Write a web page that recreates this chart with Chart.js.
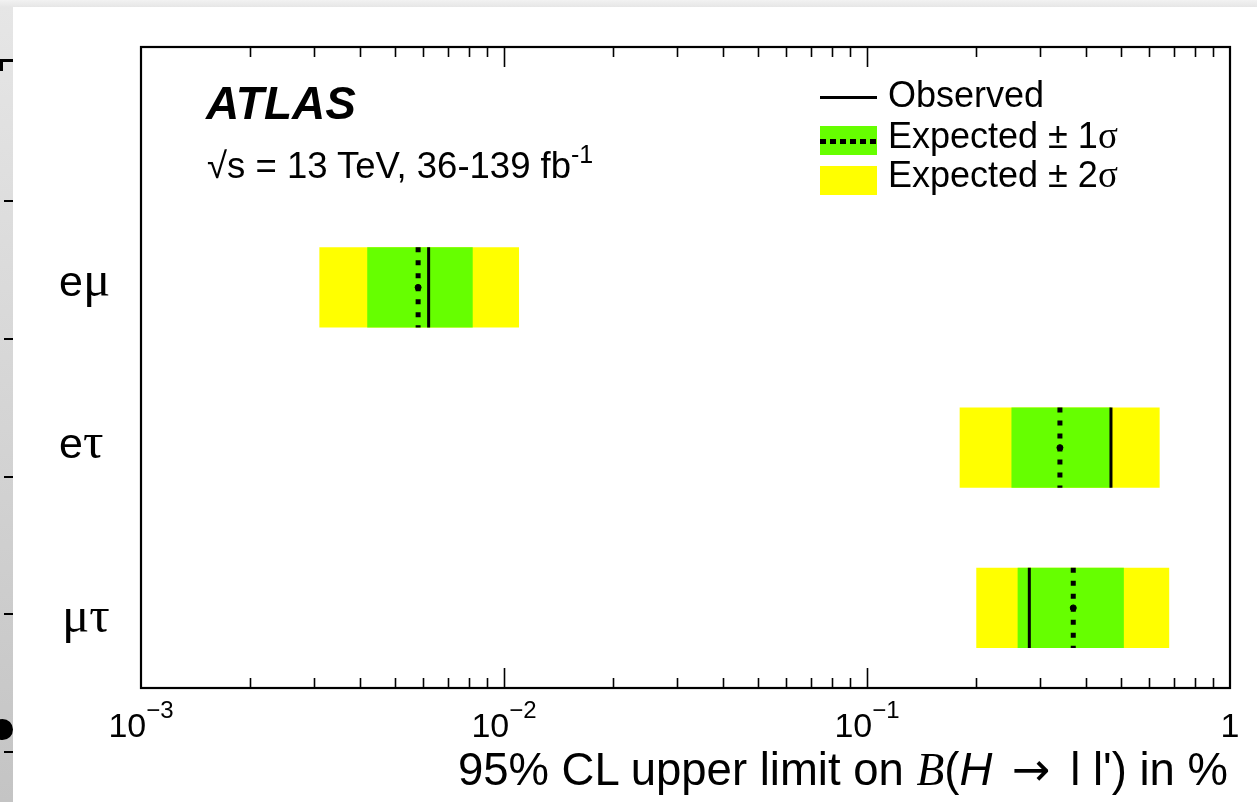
<!DOCTYPE html>
<html>
<head>
<meta charset="utf-8">
<script src="https://cdn.jsdelivr.net/npm/chart.js@4/dist/chart.umd.min.js"></script>
<style>
  html, body { margin:0; padding:0; width:1257px; height:802px; overflow:hidden; }
  body { background: linear-gradient(to bottom, #f2f2f2 0px, #e6e6e6 7px, #c4c4c4 802px); position:relative; font-family:"Liberation Sans", Arial, sans-serif; }
  #panel { position:absolute; left:13px; top:7px; right:0; bottom:0; background:#fff; }
  #c { position:absolute; left:0; top:0; }
  .t { position:absolute; white-space:nowrap; line-height:1; color:#000; }
  .ghost { position:absolute; background:#000; }
</style>
</head>
<body>
<div id="panel"></div>
<div class="ghost" style="left:0;top:59px;width:13px;height:3px"></div>
<div class="ghost" style="left:0;top:59px;width:3px;height:12px"></div>
<div class="ghost" style="left:4px;top:200px;width:9px;height:2px"></div>
<div class="ghost" style="left:4px;top:338px;width:9px;height:2px"></div>
<div class="ghost" style="left:4px;top:476px;width:9px;height:2px"></div>
<div class="ghost" style="left:4px;top:613px;width:9px;height:2px"></div>
<div class="ghost" style="left:4px;top:751px;width:9px;height:2px"></div>
<div class="ghost" style="left:-8px;top:719px;width:21px;height:21px;border-radius:50%"></div>
<canvas id="c" width="1257" height="802"></canvas>

<div class="t" style="left:206px;top:80px;font-size:46px;font-weight:bold;font-style:italic;">ATLAS</div>
<div class="t" style="left:207px;top:142px;font-size:36.5px;">√s = 13 TeV, 36-139 fb<sup style="font-size:25px;vertical-align:15px;">-1</sup></div>

<div style="position:absolute;left:820px;top:96px;width:57px;height:3px;background:#000"></div>
<div style="position:absolute;left:820px;top:126px;width:57px;height:29px;background:#66ff00"></div>
<div style="position:absolute;left:820px;top:139px;width:57px;height:5px;background:repeating-linear-gradient(to right,#000 0 6px,transparent 6px 10px)"></div>
<div style="position:absolute;left:820px;top:166px;width:57px;height:29px;background:#ffff00"></div>
<div class="t" style="left:888px;top:77px;font-size:36px;">Observed</div>
<div class="t" style="left:888px;top:117px;font-size:36px;">Expected ± 1<span style="font-family:'Liberation Serif';font-size:37px;">σ</span></div>
<div class="t" style="left:888px;top:156px;font-size:36px;">Expected ± 2<span style="font-family:'Liberation Serif';font-size:37px;">σ</span></div>

<div class="t" style="right:29px;top:746px;font-size:45.5px;">95% CL upper limit on <span style="font-family:'Liberation Serif';font-style:italic;">B</span>(<i>H</i> <span style="font-family:'DejaVu Sans';font-size:46px;margin:0 7px;">→</span> l l') in %</div>

<script>
// ---- data ----
const categories = ['eμ', 'eτ', 'μτ'];
const categoryPos = [1.5, 2.5, 3.5];
const observed = [0.0062, 0.47, 0.28];
const expected = [0.0058, 0.34, 0.37];
const minus1Sigma = [0.0042, 0.25, 0.26];
const plus1Sigma = [0.0082, 0.47, 0.51];
const minus2Sigma = [0.0031, 0.18, 0.20];
const plus2Sigma = [0.0110, 0.64, 0.68];
const tickValues = [0.001, 0.01, 0.1, 1];
const tickBases = ['10', '10', '10', '1'];
const tickExps = ['−3', '−2', '−1', ''];
const minorMantissas = [2, 3, 4, 5, 6, 7, 8, 9];

// ---- build datasets ----
const band = (lo, hi) => categoryPos.map((y, i) => ({ y: y, x: [lo[i], hi[i]] }));
const vline = (vals) => {
  const pts = [];
  categoryPos.forEach((y, i) => {
    pts.push({ x: vals[i], y: y - 0.25 });
    pts.push({ x: vals[i], y: y + 0.25 });
    pts.push({ x: vals[i], y: null });
  });
  return pts;
};

const labelBaselineShift = [9, 10, 24];

const frame = {
  id: 'frame',
  afterDatasetsDraw(chart) {
    const { ctx, chartArea: a, scales: { x, y } } = chart;
    ctx.save();
    ctx.strokeStyle = '#000';
    ctx.lineWidth = 1.6;
    const tick = (v, len) => {
      const px = Math.round(x.getPixelForValue(v)) + 0.5;
      ctx.beginPath();
      ctx.moveTo(px, a.bottom); ctx.lineTo(px, a.bottom - len);
      ctx.moveTo(px, a.top); ctx.lineTo(px, a.top + len);
      ctx.stroke();
    };
    for (let k = 0; k < tickValues.length - 1; k++) {
      minorMantissas.forEach(m => tick(m * tickValues[k], 10));
      if (k > 0) tick(tickValues[k], 20);
    }
    ctx.lineWidth = 2.2;
    ctx.strokeRect(a.left, a.top, a.right - a.left, a.bottom - a.top);
    ctx.fillStyle = '#000';
    ctx.textBaseline = 'alphabetic';
    ctx.textAlign = 'left';
    tickValues.forEach((v, i) => {
      const px = x.getPixelForValue(v);
      ctx.font = '34px "Liberation Sans", Arial, sans-serif';
      const wb = ctx.measureText(tickBases[i]).width;
      ctx.font = '24px "Liberation Sans", Arial, sans-serif';
      const we = tickExps[i] ? ctx.measureText(tickExps[i]).width : 0;
      const x0 = px - (wb + we) / 2;
      ctx.font = '34px "Liberation Sans", Arial, sans-serif';
      ctx.fillText(tickBases[i], x0, 737);
      if (tickExps[i]) {
        ctx.font = '24px "Liberation Sans", Arial, sans-serif';
        ctx.fillText(tickExps[i], x0 + wb, 718);
      }
    });
    categories.forEach((c, i) => {
      const py = y.getPixelForValue(categoryPos[i]) + labelBaselineShift[i];
      let cx = c[0] === 'e' ? 59 : 62;
      for (const ch of c) {
        ctx.font = (ch === 'e') ? '43px "Liberation Sans", Arial, sans-serif' : '51px "Liberation Serif", serif';
        ctx.fillText(ch, cx, py);
        cx += ctx.measureText(ch).width;
      }
    });
    ctx.restore();
  }
};

new Chart(document.getElementById('c'), {
  type: 'bar',
  data: {
    datasets: [
      { type: 'line', label: 'Observed', data: vline(observed), borderColor: '#000', borderWidth: 3,
        pointRadius: 0, spanGaps: false, order: 0 },
      { type: 'line', label: 'Expected', data: vline(expected), borderColor: '#000', borderWidth: 5,
        borderDash: [5, 8], borderCapStyle: 'butt', pointRadius: 0, spanGaps: false, order: 0 },
      { type: 'scatter', label: 'Expected marker', data: categoryPos.map((y, i) => ({ x: expected[i], y: y })),
        backgroundColor: '#000', borderColor: '#000', pointRadius: 3, order: 0 },
      { type: 'bar', label: 'Expected ± 1σ', indexAxis: 'y', data: band(minus1Sigma, plus1Sigma),
        backgroundColor: '#66ff00', borderWidth: 0, order: 1 },
      { type: 'bar', label: 'Expected ± 2σ', indexAxis: 'y', data: band(minus2Sigma, plus2Sigma),
        backgroundColor: '#ffff00', borderWidth: 0, order: 2 }
    ]
  },
  options: {
    responsive: false,
    animation: false,
    grouped: false,
    categoryPercentage: 1,
    barPercentage: 0.5,
    layout: { padding: { left: 141, right: 27, top: 47, bottom: 114 } },
    plugins: { legend: { display: false }, tooltip: { enabled: false } },
    scales: {
      x: { type: 'logarithmic', min: 0.001, max: 1, display: false, offset: false },
      y: { type: 'linear', min: 0, max: 4, reverse: true, display: false, offset: false, ticks: { stepSize: 1 } }
    }
  },
  plugins: [frame]
});
</script>
</body>
</html>
